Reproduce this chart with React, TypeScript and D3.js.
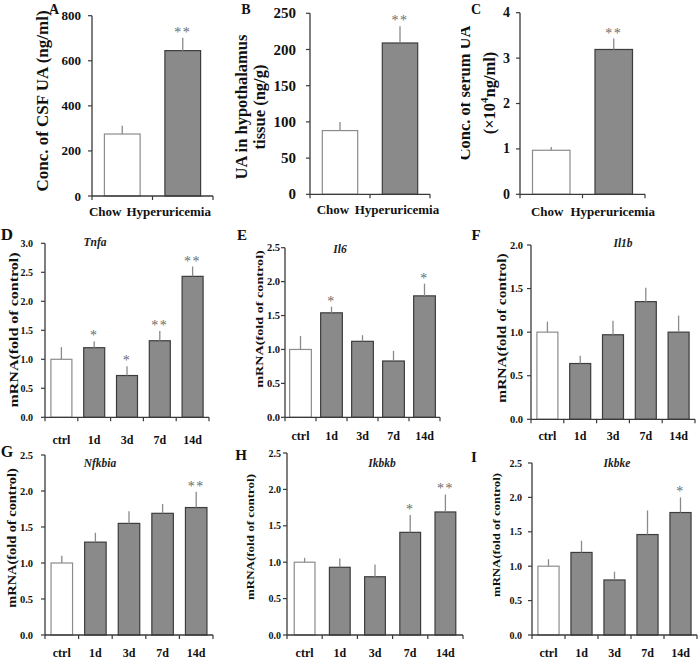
import React from 'react';
import * as d3 from 'd3';

// ---------- data ----------
const uaGroups = ['Chow', 'Hyperuricemia'];
const timeGroups = ['ctrl', '1d', '3d', '7d', '14d'];

const csfMean = [275, 645];
const csfErr = [37, 57];
const csfSig = ['', '**'];
const csfTicks = [0, 200, 400, 600, 800];

const hypoMean = [88, 209];
const hypoErr = [12, 23];
const hypoSig = ['', '**'];
const hypoTicks = [0, 50, 100, 150, 200, 250];

const serumMean = [0.97, 3.19];
const serumErr = [0.07, 0.24];
const serumSig = ['', '**'];
const serumTicks = [0, 1, 2, 3, 4];

const tnfaMean = [1.0, 1.2, 0.72, 1.32, 2.43];
const tnfaErr = [0.21, 0.11, 0.16, 0.17, 0.17];
const tnfaSig = ['', '*', '*', '**', '**'];
const tnfaTicks = [0, 0.5, 1.0, 1.5, 2.0, 2.5, 3.0];

const il6Mean = [1.0, 1.54, 1.12, 0.83, 1.79];
const il6Err = [0.2, 0.09, 0.09, 0.15, 0.18];
const il6Sig = ['', '*', '', '', '*'];
const il6Ticks = [0, 0.5, 1.0, 1.5, 2.0, 2.5];

const il1bMean = [1.0, 0.64, 0.97, 1.35, 1.0];
const il1bErr = [0.12, 0.09, 0.16, 0.16, 0.19];
const il1bSig = ['', '', '', '', ''];
const il1bTicks = [0, 0.5, 1.0, 1.5, 2.0];

const nfkbiaMean = [1.0, 1.29, 1.55, 1.69, 1.77];
const nfkbiaErr = [0.1, 0.13, 0.17, 0.13, 0.22];
const nfkbiaSig = ['', '', '', '', '**'];
const nfkbiaTicks = [0, 0.5, 1.0, 1.5, 2.0, 2.5];

const ikbkbMean = [1.0, 0.93, 0.8, 1.41, 1.69];
const ikbkbErr = [0.06, 0.12, 0.17, 0.24, 0.24];
const ikbkbSig = ['', '', '', '*', '**'];
const ikbkbTicks = [0, 0.5, 1.0, 1.5, 2.0, 2.5];

const ikbkeMean = [1.0, 1.2, 0.8, 1.46, 1.78];
const ikbkeErr = [0.1, 0.17, 0.12, 0.35, 0.22];
const ikbkeSig = ['', '', '', '', '*'];
const ikbkeTicks = [0, 0.5, 1.0, 1.5, 2.0, 2.5];

const mrnaLabel = ['mRNA(fold of control)'];

// ---------- layout ----------
type Panel = {
  letter: string;
  title?: string;
  cats: string[];
  mean: number[];
  err: number[];
  sig: string[];
  ticks: number[];
  fmt: (v: number) => string;
  ylabel: string[];
  x0: number; x1: number; yTop: number; yBot: number;
  pad: number;
  labelX: number[]; labelY: number; labelFont: number; labelSquash: number;
  letterX: number; letterY: number; letterFont: number;
  titleX?: number; titleY?: number;
  catY: number; catDx?: number[]; catFont: number;
  tickFont: number; tickGap: number;
  sigFont: number;
  clipLabelLeft?: number;
};

const intFmt = (v: number) => d3.format('d')(v);
const decFmt = (v: number) => d3.format('.1f')(v);

const panels: Panel[] = [
  {
    letter: 'A', cats: uaGroups, mean: csfMean, err: csfErr, sig: csfSig, ticks: csfTicks, fmt: intFmt,
    ylabel: ['Conc. of CSF UA (ng/ml)'],
    x0: 92, x1: 213, yTop: 15.7, yBot: 196, pad: 0.41,
    labelX: [42], labelY: 101, labelFont: 17, labelSquash: 1,
    letterX: 54, letterY: 14, letterFont: 14,
    catY: 216, catDx: [-17, -14], catFont: 13, tickFont: 13, tickGap: 11, sigFont: 14,
  },
  {
    letter: 'B', cats: uaGroups, mean: hypoMean, err: hypoErr, sig: hypoSig, ticks: hypoTicks, fmt: intFmt,
    ylabel: ['UA in hypothalamus', 'tissue (ng/g)'],
    x0: 310, x1: 430, yTop: 13.3, yBot: 194.3, pad: 0.41,
    labelX: [241, 259], labelY: 107, labelFont: 16.5, labelSquash: 1,
    letterX: 246, letterY: 14, letterFont: 14,
    catY: 214, catDx: [-7, -3], catFont: 13, tickFont: 15, tickGap: 14, sigFont: 14,
  },
  {
    letter: 'C', cats: uaGroups, mean: serumMean, err: serumErr, sig: serumSig, ticks: serumTicks, fmt: intFmt,
    ylabel: ['Conc. of serum UA', '(×10|4|ng/ml)'],
    x0: 520, x1: 645, yTop: 12.7, yBot: 194.3, pad: 0.4,
    labelX: [464, 489], labelY: 93, labelFont: 16.5, labelSquash: 1,
    letterX: 476, letterY: 14, letterFont: 14,
    catY: 216, catDx: [-4, -1], catFont: 13, tickFont: 14, tickGap: 10, sigFont: 14,
    clipLabelLeft: 461,
  },
  {
    letter: 'D', title: 'Tnfa', cats: timeGroups, mean: tnfaMean, err: tnfaErr, sig: tnfaSig, ticks: tnfaTicks, fmt: decFmt,
    ylabel: mrnaLabel,
    x0: 45, x1: 209, yTop: 243.3, yBot: 417.3, pad: 0.36,
    labelX: [14], labelY: 330, labelFont: 16, labelSquash: 0.78,
    letterX: 7, letterY: 240, letterFont: 17, titleX: 95, titleY: 246,
    catY: 444, catFont: 12, tickFont: 10, tickGap: 12, sigFont: 14,
  },
  {
    letter: 'E', title: 'Il6', cats: timeGroups, mean: il6Mean, err: il6Err, sig: il6Sig, ticks: il6Ticks, fmt: decFmt,
    ylabel: mrnaLabel,
    x0: 285, x1: 440, yTop: 247.7, yBot: 417.3, pad: 0.3,
    labelX: [259], labelY: 319, labelFont: 14.2, labelSquash: 0.8,
    letterX: 242, letterY: 240, letterFont: 15, titleX: 340, titleY: 253,
    catY: 440, catFont: 12, tickFont: 10.5, tickGap: 5, sigFont: 14,
  },
  {
    letter: 'F', title: 'Il1b', cats: timeGroups, mean: il1bMean, err: il1bErr, sig: il1bSig, ticks: il1bTicks, fmt: decFmt,
    ylabel: mrnaLabel,
    x0: 531, x1: 695, yTop: 245, yBot: 419.3, pad: 0.36,
    labelX: [502], labelY: 328, labelFont: 15.4, labelSquash: 0.78,
    letterX: 476, letterY: 240, letterFont: 15, titleX: 623, titleY: 247,
    catY: 440, catFont: 12, tickFont: 10.5, tickGap: 8, sigFont: 14,
  },
  {
    letter: 'G', title: 'Nfkbia', cats: timeGroups, mean: nfkbiaMean, err: nfkbiaErr, sig: nfkbiaSig, ticks: nfkbiaTicks, fmt: decFmt,
    ylabel: mrnaLabel,
    x0: 45, x1: 213, yTop: 455, yBot: 635, pad: 0.36,
    labelX: [12], labelY: 538, labelFont: 14.4, labelSquash: 0.8,
    letterX: 7, letterY: 457, letterFont: 16, titleX: 100, titleY: 467,
    catY: 657, catFont: 12, tickFont: 10.5, tickGap: 12, sigFont: 14,
  },
  {
    letter: 'H', title: 'Ikbkb', cats: timeGroups, mean: ikbkbMean, err: ikbkbErr, sig: ikbkbSig, ticks: ikbkbTicks, fmt: decFmt,
    ylabel: mrnaLabel,
    x0: 287, x1: 463, yTop: 453, yBot: 635, pad: 0.41,
    labelX: [251], labelY: 537, labelFont: 13, labelSquash: 0.8,
    letterX: 241, letterY: 460, letterFont: 15, titleX: 382, titleY: 467,
    catY: 657, catFont: 12, tickFont: 10, tickGap: 6, sigFont: 14,
  },
  {
    letter: 'I', title: 'Ikbke', cats: timeGroups, mean: ikbkeMean, err: ikbkeErr, sig: ikbkeSig, ticks: ikbkeTicks, fmt: decFmt,
    ylabel: mrnaLabel,
    x0: 532, x1: 697, yTop: 463, yBot: 635, pad: 0.36,
    labelX: [497], labelY: 535, labelFont: 12.8, labelSquash: 0.82,
    letterX: 474, letterY: 462, letterFont: 15, titleX: 617, titleY: 467,
    catY: 657, catFont: 12, tickFont: 10, tickGap: 10, sigFont: 14,
  },
];

const FONT = '"Liberation Serif", "Times New Roman", serif';
const AXIS = '#3a3a3a';

function PanelView({ p, idx }: { p: Panel; idx: number }) {
  const y = d3.scaleLinear().domain([0, p.ticks[p.ticks.length - 1]]).range([p.yBot, p.yTop]);
  const x = d3
    .scaleBand<string>()
    .domain(p.cats)
    .range([p.x0, p.x1])
    .paddingInner(p.pad)
    .paddingOuter(p.pad / 2);
  const bounds = d3.range(p.cats.length + 1).map((i) => p.x0 + i * ((p.x1 - p.x0) / p.cats.length));
  const clipId = `clip-${idx}`;
  const cx = (c: string) => (x(c) as number) + x.bandwidth() / 2;
  return (
    <g>
      {p.clipLabelLeft !== undefined && (
        <defs>
          <clipPath id={clipId}>
            <rect x={p.clipLabelLeft} y={0} width={200} height={660} />
          </clipPath>
        </defs>
      )}
      <text x={p.letterX} y={p.letterY} fontFamily={FONT} fontWeight="bold" fontSize={p.letterFont} textAnchor="middle" fill="#111">
        {p.letter}
      </text>
      {p.title && (
        <text x={p.titleX} y={p.titleY} fontFamily={FONT} fontWeight="bold" fontStyle="italic" fontSize={11.5} textAnchor="middle" fill="#222">
          {p.title}
        </text>
      )}
      <g clipPath={p.clipLabelLeft !== undefined ? `url(#${clipId})` : undefined}>
        {p.ylabel.map((line, i) => {
          const parts = line.split('|');
          return (
            <text
              key={i}
              transform={`translate(${p.labelX[i]},${p.labelY}) rotate(-90) scale(1,${p.labelSquash})`}
              fontFamily={FONT}
              fontWeight="bold"
              fontSize={p.labelFont}
              textAnchor="middle"
              dominantBaseline="central"
              fill="#111"
            >
              {parts.length === 3 ? (
                <>
                  <tspan>{parts[0]}</tspan>
                  <tspan fontSize={p.labelFont * 0.65} dy={-5}>{parts[1]}</tspan>
                  <tspan dy={5}>{parts[2]}</tspan>
                </>
              ) : (
                line
              )}
            </text>
          );
        })}
      </g>
      {p.cats.map((c, i) => (
        <rect
          key={c}
          x={x(c)}
          y={y(p.mean[i])}
          width={x.bandwidth()}
          height={p.yBot - y(p.mean[i])}
          fill={i === 0 ? '#ffffff' : '#8a8a8a'}
          stroke={i === 0 ? '#8c8c8c' : '#3c3c3c'}
          strokeWidth={1.2}
        />
      ))}
      {p.cats.map((c, i) => (
        <line key={c} x1={cx(c)} x2={cx(c)} y1={y(p.mean[i])} y2={y(p.mean[i] + p.err[i])} stroke="#8a8a8a" strokeWidth={1.3} />
      ))}
      <g opacity={0.99}>
        {p.cats.map((c, i) =>
          p.sig[i] ? (
            <text
              key={c}
              transform={`translate(${cx(c)},${y(p.mean[i] + p.err[i]) - 1}) rotate(-90) rotate(90)`}
              fontFamily={FONT}
              fontSize={p.sigFont}
              textAnchor="middle"
              fill="#6a6a6a"
              letterSpacing={1.5}
            >
              {p.sig[i]}
            </text>
          ) : null
        )}
      </g>
      <line x1={p.x0} x2={p.x0} y1={p.yBot} y2={p.yTop} stroke={AXIS} strokeWidth={1.3} />
      {p.ticks.map((t) => (
        <g key={t}>
          <line x1={p.x0 - 4} x2={p.x0} y1={y(t)} y2={y(t)} stroke={AXIS} strokeWidth={1.2} />
          <text
            x={p.x0 - p.tickGap}
            y={y(t)}
            fontFamily={FONT}
            fontWeight="bold"
            fontSize={p.tickFont}
            textAnchor="end"
            dominantBaseline="central"
            fill="#111"
          >
            {p.fmt(t)}
          </text>
        </g>
      ))}
      <line x1={p.x0} x2={p.x1} y1={p.yBot} y2={p.yBot} stroke={AXIS} strokeWidth={1.3} />
      {bounds.map((b, i) => (
        <line key={i} x1={b} x2={b} y1={p.yBot} y2={p.yBot + 4} stroke={AXIS} strokeWidth={1.2} />
      ))}
      {p.cats.map((c, i) => (
        <text
          key={c}
          x={cx(c) + (p.catDx ? p.catDx[i] : 0)}
          y={p.catY}
          fontFamily={FONT}
          fontWeight="bold"
          fontSize={p.catFont}
          textAnchor="middle"
          fill="#111"
        >
          {c}
        </text>
      ))}
    </g>
  );
}

export default function App() {
  return (
    <svg width={700} height={660} style={{ position: 'absolute', left: 0, top: 0, background: '#fff' }}>
      <rect width={700} height={660} fill="#fff" />
      {panels.map((p, i) => (
        <PanelView key={p.letter} p={p} idx={i} />
      ))}
    </svg>
  );
}
